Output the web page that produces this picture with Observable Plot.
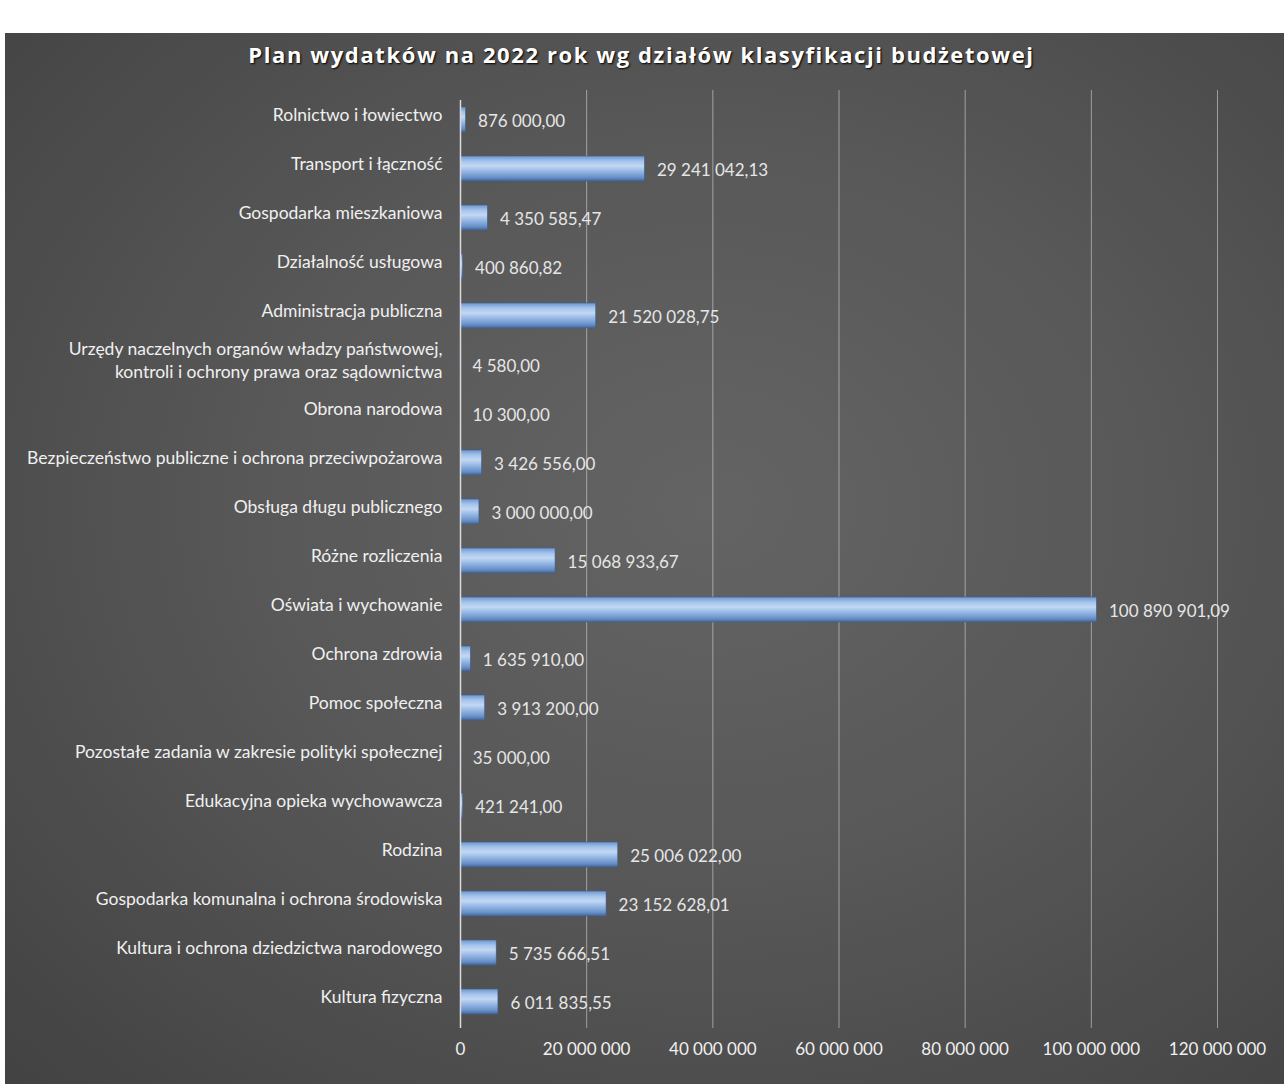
<!DOCTYPE html>
<html>
<head>
<meta charset="utf-8">
<script src="https://cdn.jsdelivr.net/npm/d3@7"></script>
<script src="https://cdn.jsdelivr.net/npm/@observablehq/plot@0.6"></script>
<style>
  html, body { margin: 0; padding: 0; background: #ffffff; }
  body { width: 1284px; height: 1084px; overflow: hidden; }
  #panel {
    position: absolute; left: 5px; top: 33px; width: 1279px; height: 1051px;
    background: radial-gradient(ellipse at 55% 45%, #646464 0%, #585858 45%, #424242 100%);
  }
  #title {
    position: absolute; left: 0; top: 6px; width: 1279px; text-align: center;
    color: #ffffff; font-family: "Open Sans", "DejaVu Sans", sans-serif; font-weight: 700;
    font-size: 22px; letter-spacing: 1.6px; text-shadow: 1px 1px 2px #000;
    box-sizing: border-box; padding-right: 6px;
  }
  #chart { position: absolute; left: 0; top: 45px; }
</style>
</head>
<body>
<div id="panel">
  <div id="title">Plan wydatków na 2022 rok wg działów klasyfikacji budżetowej</div>
  <div id="chart"></div>
</div>
<script>
const categories = [
  "Rolnictwo i łowiectwo",
  "Transport i łączność",
  "Gospodarka mieszkaniowa",
  "Działalność usługowa",
  "Administracja publiczna",
  "Urzędy naczelnych organów władzy państwowej,\nkontroli i ochrony prawa oraz sądownictwa",
  "Obrona narodowa",
  "Bezpieczeństwo publiczne i ochrona przeciwpożarowa",
  "Obsługa długu publicznego",
  "Różne rozliczenia",
  "Oświata i wychowanie",
  "Ochrona zdrowia",
  "Pomoc społeczna",
  "Pozostałe zadania w zakresie polityki społecznej",
  "Edukacyjna opieka wychowawcza",
  "Rodzina",
  "Gospodarka komunalna i ochrona środowiska",
  "Kultura i ochrona dziedzictwa narodowego",
  "Kultura fizyczna"
];
const values = [
  876000.00, 29241042.13, 4350585.47, 400860.82, 21520028.75,
  4580.00, 10300.00, 3426556.00, 3000000.00, 15068933.67,
  100890901.09, 1635910.00, 3913200.00, 35000.00, 421241.00,
  25006022.00, 23152628.01, 5735666.51, 6011835.55
];
const xTicks = [0, 20000000, 40000000, 60000000, 80000000, 100000000, 120000000];

const locale = d3.formatLocale({decimal: ",", thousands: "\u00a0", grouping: [3]});
const fmtVal = locale.format(",.2f");
const fmtTick = locale.format(",.0f");

const data = categories.map((c, i) => ({category: c, value: values[i]}));

const font = "Lato, 'Open Sans', sans-serif";

const plot = Plot.plot({
  width: 1279,
  height: 1006,
  marginLeft: 455,
  marginRight: 67,
  marginTop: 16,
  marginBottom: 58,
  style: {background: "transparent", color: "#e8e8e8", fontFamily: font, fontSize: "16px"},
  x: {domain: [0, 120000000], ticks: xTicks, tickFormat: fmtTick, label: null},
  y: {domain: categories, label: null, paddingInner: 0.5, paddingOuter: 0.25},
  marks: [
    Plot.ruleX(xTicks.slice(1), {stroke: "#d4d4d4", strokeOpacity: 0.6, strokeWidth: 1, insetTop: -4, insetBottom: -2}),
    Plot.barX(data, {y: "category", x: "value", fill: "url(#barGrad)", stroke: "#3e5f8e", strokeWidth: 0.6}),
    Plot.ruleX([0], {stroke: "#dadada", strokeWidth: 1.5, insetTop: 6, insetBottom: -2}),
    Plot.text(data, {
      y: "category", x: "value", text: d => fmtVal(d.value),
      textAnchor: "start", dx: 12, dy: 2, fill: "#e6e6e6", fontSize: 17
    }),
    Plot.axisX({ticks: xTicks, tickFormat: fmtTick, tickSize: 0, tickPadding: 16, fontSize: 17, fill: "#f0f0f0", label: null}),
    Plot.axisY({tickSize: 0, tickPadding: 18, fontSize: 17.5, fill: "#f0f0f0", dy: -6, label: null, lineHeight: 1.3})
  ]
});

// gradient for bars (cylindrical look)
const svg = d3.select(plot);
const defs = svg.insert("defs", ":first-child");
const g = defs.append("linearGradient").attr("id", "barGrad")
  .attr("x1", 0).attr("y1", 0).attr("x2", 0).attr("y2", 1);
[["0%", "#6d95cc"], ["20%", "#a3c3ec"], ["40%", "#c3d8f3"], ["60%", "#97b9e6"], ["85%", "#6a92c9"], ["100%", "#45679a"]]
  .forEach(([o, c]) => g.append("stop").attr("offset", o).attr("stop-color", c));

document.getElementById("chart").appendChild(plot);
</script>
</body>
</html>
